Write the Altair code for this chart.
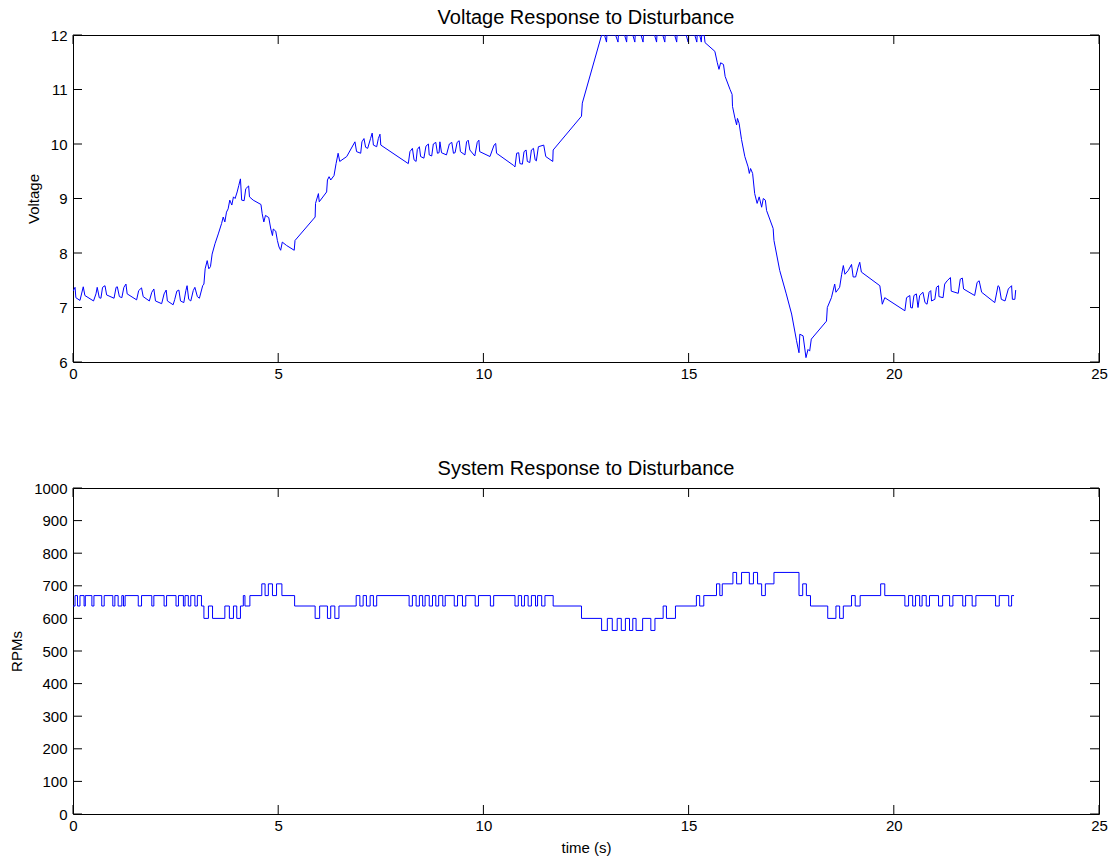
import altair as alt
import pandas as pd

# ---------------- data ----------------
volt_time = [
    0.00, 0.05, 0.07, 0.17, 0.25, 0.29, 0.50, 0.56, 0.59, 0.64, 0.68, 0.72, 0.78, 0.82,
    1.00, 1.05, 1.08, 1.13, 1.19, 1.24, 1.29, 1.32, 1.55, 1.60, 1.67, 1.71, 1.86, 1.92,
    1.97, 2.01, 2.16, 2.22, 2.27, 2.30, 2.44, 2.48, 2.53, 2.58, 2.62, 2.70, 2.75, 2.78,
    2.82, 2.87, 2.93, 2.97, 3.03, 3.08, 3.16, 3.19, 3.22, 3.27, 3.31, 3.35, 3.39, 3.46,
    3.54, 3.62, 3.66, 3.70, 3.74, 3.78, 3.82, 3.87, 3.91, 3.95, 4.00, 4.04, 4.08, 4.11,
    4.17, 4.21, 4.28, 4.30, 4.39, 4.58, 4.61, 4.65, 4.69, 4.77, 4.82, 4.86, 4.88, 4.94,
    4.98, 5.02, 5.06, 5.10, 5.20, 5.39, 5.41, 5.90, 5.91, 5.98, 6.00, 6.18, 6.20, 6.24,
    6.28, 6.36, 6.41, 6.46, 6.50, 6.67, 6.87, 6.91, 7.01, 7.04, 7.09, 7.13, 7.18, 7.25,
    7.29, 7.32, 7.40, 7.44, 7.48, 7.50, 8.17, 8.21, 8.27, 8.31, 8.36, 8.39, 8.44, 8.47,
    8.55, 8.60, 8.66, 8.68, 8.74, 8.78, 8.84, 8.88, 8.92, 8.94, 8.98, 9.10, 9.17, 9.23,
    9.27, 9.31, 9.36, 9.41, 9.44, 9.55, 9.59, 9.63, 9.67, 9.79, 9.85, 9.89, 9.91, 10.16,
    10.26, 10.30, 10.32, 10.73, 10.77, 10.81, 10.86, 10.89, 10.95, 10.99, 11.04, 11.07,
    11.13, 11.17, 11.22, 11.26, 11.29, 11.34, 11.47, 11.52, 11.69, 11.70, 12.39, 12.41,
    12.88, 12.95, 13.00, 13.01, 13.22, 13.28, 13.29, 13.44, 13.49, 13.50, 13.64, 13.69,
    13.70, 13.84, 13.89, 13.90, 14.17, 14.22, 14.23, 14.37, 14.42, 14.43, 14.66, 14.71,
    14.72, 14.94, 14.99, 15.00, 15.15, 15.20, 15.21, 15.27, 15.31, 15.32, 15.38, 15.40,
    15.64, 15.70, 15.74, 15.78, 15.85, 15.89, 16.01, 16.06, 16.07, 16.13, 16.17, 16.19,
    16.23, 16.29, 16.37, 16.45, 16.48, 16.51, 16.56, 16.61, 16.67, 16.72, 16.78, 16.82,
    16.87, 16.90, 17.06, 17.08, 17.22, 17.38, 17.51, 17.63, 17.69, 17.71, 17.79, 17.86,
    17.91, 17.95, 17.99, 18.36, 18.38, 18.48, 18.56, 18.59, 18.68, 18.73, 18.77, 18.81,
    18.89, 18.97, 19.01, 19.07, 19.13, 19.17, 19.21, 19.66, 19.72, 19.78, 20.27, 20.31,
    20.39, 20.41, 20.45, 20.49, 20.55, 20.59, 20.63, 20.71, 20.76, 20.81, 20.86, 20.90,
    20.92, 21.00, 21.04, 21.09, 21.10, 21.20, 21.24, 21.30, 21.38, 21.40, 21.57, 21.62,
    21.67, 21.70, 21.97, 22.03, 22.08, 22.14, 22.46, 22.54, 22.57, 22.62, 22.71, 22.79,
    22.87, 22.89, 22.95, 22.97,
]
volt_value = [
    7.30, 7.37, 7.18, 7.13, 7.38, 7.22, 7.12, 7.25, 7.37, 7.18, 7.17, 7.37, 7.40, 7.23,
    7.17, 7.37, 7.38, 7.20, 7.18, 7.37, 7.43, 7.25, 7.14, 7.31, 7.36, 7.20, 7.12, 7.28,
    7.34, 7.12, 7.07, 7.25, 7.32, 7.12, 7.05, 7.15, 7.30, 7.32, 7.12, 7.09, 7.31, 7.40,
    7.15, 7.12, 7.31, 7.37, 7.20, 7.17, 7.40, 7.43, 7.71, 7.86, 7.71, 7.75, 7.98, 8.17,
    8.35, 8.54, 8.66, 8.57, 8.75, 8.81, 8.97, 8.88, 9.03, 9.00, 9.12, 9.24, 9.36, 8.97,
    8.96, 9.18, 9.23, 9.03, 8.97, 8.89, 8.72, 8.57, 8.69, 8.65, 8.44, 8.32, 8.44, 8.40,
    8.23, 8.11, 8.05, 8.20, 8.14, 8.05, 8.23, 8.66, 8.91, 9.09, 8.94, 9.12, 9.34, 9.40,
    9.34, 9.42, 9.64, 9.83, 9.68, 9.77, 10.04, 9.86, 9.83, 10.04, 10.10, 9.94, 9.92, 10.10,
    10.20, 9.98, 9.95, 10.10, 10.18, 9.98, 9.64, 9.86, 9.92, 9.71, 9.68, 9.90, 9.95, 9.77,
    9.74, 9.96, 10.00, 9.80, 9.78, 10.00, 10.03, 9.83, 9.84, 10.04, 9.84, 9.80, 10.00, 10.03,
    9.83, 9.84, 10.03, 10.06, 9.86, 9.80, 10.04, 10.07, 9.89, 9.78, 10.03, 10.07, 9.86, 9.77,
    9.98, 10.01, 9.83, 9.61, 9.58, 9.83, 9.84, 9.64, 9.63, 9.86, 9.89, 9.68,
    9.66, 9.89, 9.92, 9.71, 9.69, 9.95, 9.98, 9.77, 9.68, 9.89, 10.51, 10.75,
    12.00, 12.00, 11.87, 12.00, 12.00, 11.87, 12.00, 12.00, 11.87, 12.00, 12.00, 11.87,
    12.00, 12.00, 11.87, 12.00, 12.00, 11.87, 12.00, 12.00, 11.87, 12.00, 12.00, 11.87,
    12.00, 12.00, 11.87, 12.00, 12.00, 11.87, 12.00, 12.00, 11.87, 12.00, 12.00, 11.86,
    11.70, 11.49, 11.37, 11.49, 11.46, 11.24, 11.00, 10.91, 10.69, 10.47, 10.35, 10.47,
    10.38, 10.08, 9.77, 9.58, 9.46, 9.55, 9.46, 9.09, 8.91, 9.03, 8.84, 9.00,
    8.97, 8.78, 8.45, 8.23, 7.68, 7.25, 6.88, 6.39, 6.17, 6.51, 6.48, 6.08,
    6.23, 6.20, 6.42, 6.75, 7.00, 7.18, 7.43, 7.28, 7.37, 7.61, 7.77, 7.61,
    7.68, 7.79, 7.56, 7.56, 7.74, 7.83, 7.65, 7.40, 7.06, 7.18, 6.94, 7.18,
    7.22, 7.00, 6.99, 7.22, 7.25, 7.00, 7.22, 7.28, 7.09, 7.06, 7.28, 7.31,
    7.12, 7.15, 7.37, 7.40, 7.20, 7.18, 7.43, 7.49, 7.55, 7.30, 7.26, 7.52,
    7.54, 7.34, 7.22, 7.46, 7.49, 7.28, 7.09, 7.40, 7.38, 7.15, 7.12, 7.34,
    7.40, 7.15, 7.15, 7.32,
]

rpm_time = [
    0.00, 0.05, 0.11, 0.17, 0.27, 0.30, 0.46, 0.51, 0.70, 0.76, 0.97, 1.02, 1.10, 1.19,
    1.23, 1.27, 1.59, 1.67, 1.92, 1.97, 2.22, 2.28, 2.51, 2.57, 2.69, 2.73, 2.81, 2.87,
    2.97, 3.03, 3.13, 3.19, 3.30, 3.40, 3.70, 3.81, 3.91, 3.99, 4.08, 4.15, 4.19, 4.31,
    4.60, 4.68, 4.76, 4.86, 4.96, 5.09, 5.40, 5.90, 6.01, 6.20, 6.28, 6.38, 6.48, 6.90,
    6.99, 7.07, 7.15, 7.24, 7.32, 7.40, 8.19, 8.27, 8.36, 8.44, 8.52, 8.58, 8.68, 8.76,
    8.84, 8.91, 9.01, 9.07, 9.29, 9.37, 9.49, 9.57, 9.80, 9.88, 10.17, 10.25, 10.77, 10.85,
    10.93, 11.00, 11.09, 11.17, 11.27, 11.32, 11.42, 11.50, 11.70, 12.39, 12.88, 13.02,
    13.14, 13.26, 13.36, 13.46, 13.56, 13.64, 13.72, 13.88, 14.08, 14.18, 14.38, 14.46,
    14.68, 15.19, 15.27, 15.37, 15.68, 15.76, 15.82, 16.08, 16.17, 16.29, 16.48, 16.58,
    16.68, 16.78, 16.87, 17.08, 17.69, 17.78, 17.87, 17.97, 18.39, 18.59, 18.68, 18.77,
    18.97, 19.06, 19.18, 19.68, 19.78, 20.27, 20.36, 20.46, 20.53, 20.63, 20.69, 20.79,
    20.87, 21.09, 21.19, 21.36, 21.44, 21.68, 21.75, 21.91, 22.00, 22.48, 22.57, 22.80,
    22.87, 22.93,
]
rpm_value = [
    638, 670, 638, 670, 638, 670, 638, 670, 638, 670, 638, 670, 638, 670,
    638, 670, 638, 670, 638, 670, 638, 670, 638, 670, 638, 670, 638, 670,
    638, 670, 638, 600, 638, 600, 638, 600, 638, 600, 638, 670, 638, 670,
    706, 670, 706, 670, 706, 670, 638, 600, 638, 600, 638, 600, 638, 670,
    638, 670, 638, 670, 638, 670, 638, 670, 638, 670, 638, 670, 638, 670,
    638, 670, 638, 670, 638, 670, 638, 670, 638, 670, 638, 670, 638, 670,
    638, 670, 638, 670, 638, 670, 638, 670, 638, 600, 563, 600,
    563, 600, 563, 600, 563, 600, 563, 600, 563, 600, 638, 600,
    638, 670, 638, 670, 706, 670, 706, 741, 706, 741, 706, 741,
    706, 670, 706, 741, 670, 706, 670, 638, 600, 638, 600, 638,
    670, 638, 670, 706, 670, 638, 670, 638, 670, 638, 670, 638,
    670, 638, 670, 638, 670, 638, 670, 638, 670, 638, 670, 638,
    670, 670,
]

x_ticks = [0, 5, 10, 15, 20, 25]
volt_ticks = [6, 7, 8, 9, 10, 11, 12]
rpm_ticks = [0, 100, 200, 300, 400, 500, 600, 700, 800, 900, 1000]

top_title = "Voltage Response to Disturbance"
bottom_title = "System Response to Disturbance"
volt_label = "Voltage"
rpm_label = "RPMs"
time_label = "time (s)"

# ---------------- chart ----------------
W = 1026
H1 = 327
H2 = 326
FONT = "Liberation Sans"
TICK = 9


def panel(df, ydomain, yticks, title, ytitle, xtitle, height, interp, toff):
    xs = alt.Scale(domain=[0, 25], nice=False, zero=False)
    ys = alt.Scale(domain=ydomain, nice=False, zero=False)
    xkw = dict(values=x_ticks, ticks=False, domain=False, grid=False, format="d",
               labelPadding=4, labelFlush=False, labelOverlap=False)
    if xtitle:
        xax = alt.Axis(title=xtitle, titlePadding=7, **xkw)
    else:
        xax = alt.Axis(title=None, **xkw)
    yax = alt.Axis(values=yticks, ticks=False, domain=False, grid=False, format="d",
                   labelPadding=6, labelOverlap=False, labelFlush=False,
                   title=ytitle, titlePadding=9)
    line = alt.Chart(df).mark_line(
        color="#0000ff", strokeWidth=1, clip=True, interpolate=interp
    ).encode(
        x=alt.X("t:Q", scale=xs, axis=xax),
        y=alt.Y("v:Q", scale=ys, axis=yax),
    )
    xt = pd.DataFrame({"t": x_ticks})
    yt = pd.DataFrame({"v": yticks})
    xb = alt.Chart(xt).mark_rule(color="black", strokeWidth=1).encode(
        x=alt.X("t:Q", scale=xs, axis=xax),
        y=alt.value(height), y2=alt.value(height - TICK))
    xtp = alt.Chart(xt).mark_rule(color="black", strokeWidth=1).encode(
        x=alt.X("t:Q", scale=xs, axis=xax),
        y=alt.value(0), y2=alt.value(TICK))
    yl = alt.Chart(yt).mark_rule(color="black", strokeWidth=1).encode(
        y=alt.Y("v:Q", scale=ys, axis=yax),
        x=alt.value(0), x2=alt.value(TICK))
    yr = alt.Chart(yt).mark_rule(color="black", strokeWidth=1).encode(
        y=alt.Y("v:Q", scale=ys, axis=yax),
        x=alt.value(W), x2=alt.value(W - TICK))
    return alt.layer(line, xb, xtp, yl, yr).properties(
        width=W, height=height,
        title=alt.TitleParams(title, font=FONT, fontSize=20, fontWeight="normal",
                              color="black", offset=toff),
    )


volt_df = pd.DataFrame({"t": volt_time, "v": volt_value})
rpm_df = pd.DataFrame({"t": rpm_time, "v": rpm_value})

top = panel(volt_df, [6, 12], volt_ticks, top_title, volt_label, None, H1, "linear", 0)
bottom = panel(rpm_df, [0, 1000], rpm_ticks, bottom_title, rpm_label, time_label, H2, "step-after", 2)

chart = alt.vconcat(top, bottom, spacing=76).properties(
    padding={"left": 9, "top": 7, "right": 5, "bottom": 5},
    background="white",
).configure_view(
    stroke="black", strokeWidth=1
).configure_axis(
    labelFont=FONT, labelFontSize=15, labelColor="black",
    titleFont=FONT, titleFontSize=15, titleFontWeight="normal", titleColor="black",
).configure_title(anchor="middle")

chart.save("out.html", embed_options={"renderer": "svg", "actions": False})
